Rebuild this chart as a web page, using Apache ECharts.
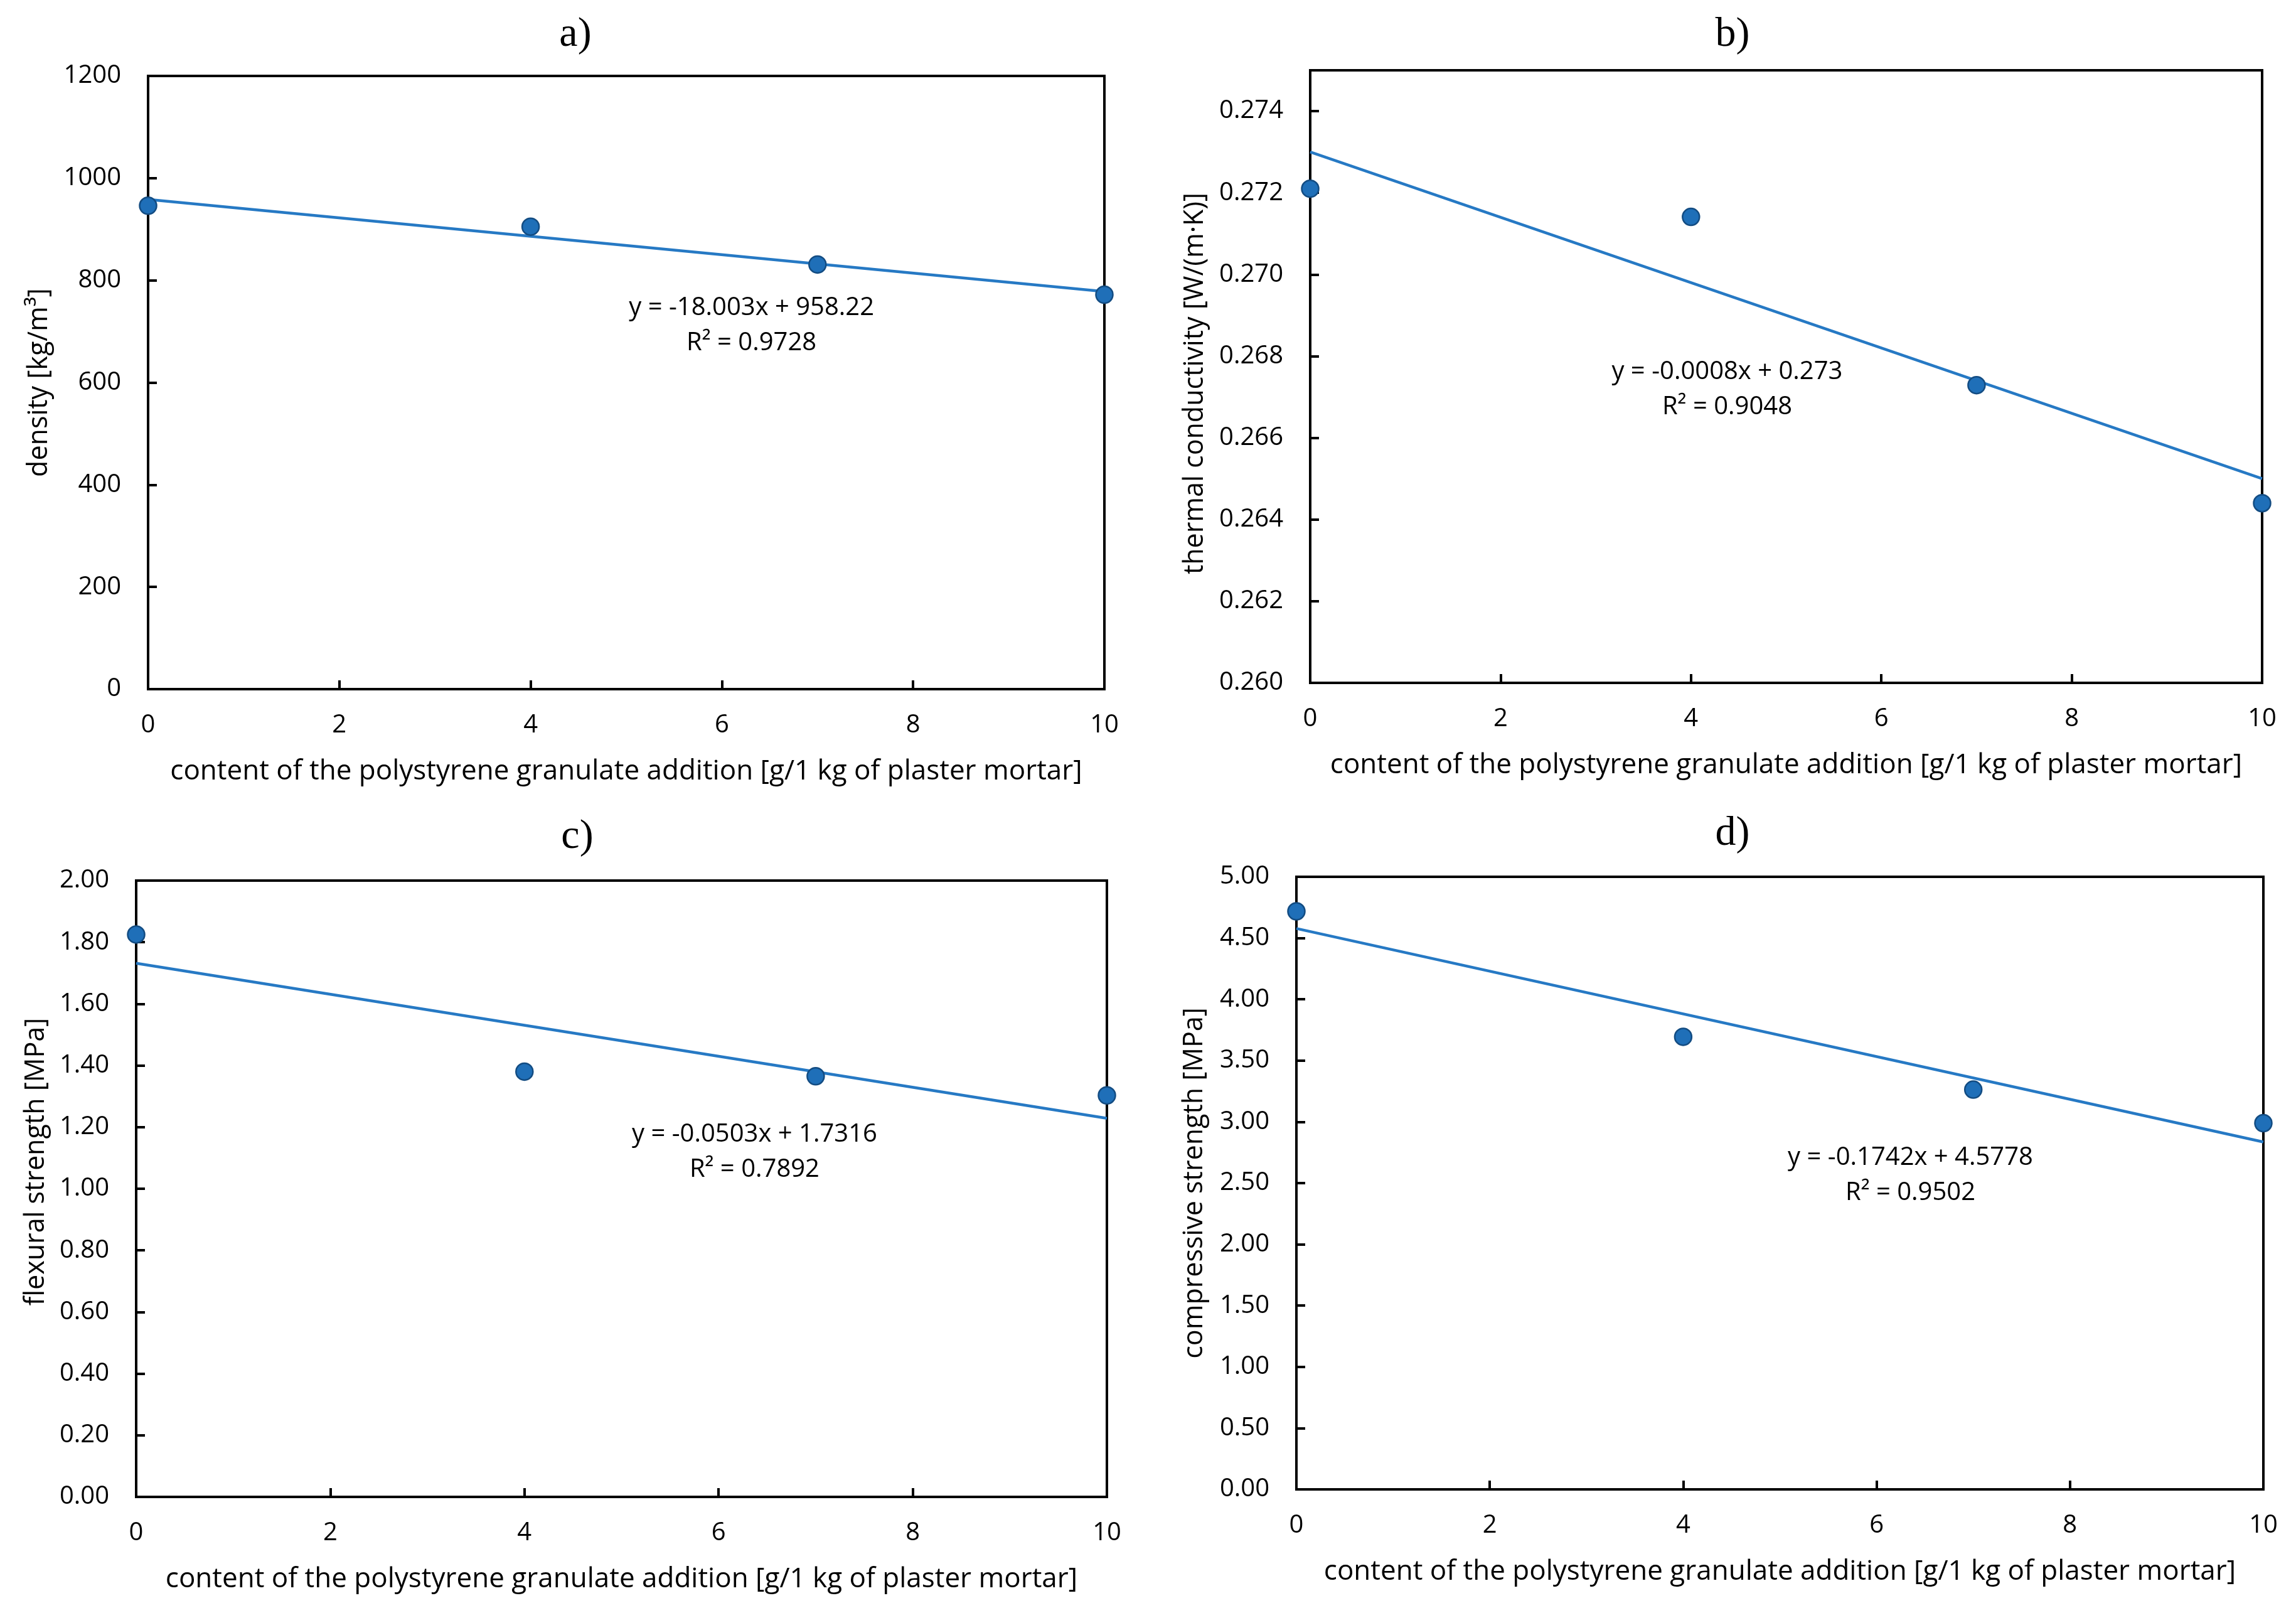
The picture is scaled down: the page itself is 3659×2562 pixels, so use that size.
<!DOCTYPE html>
<html><head><meta charset="utf-8">
<script src="https://cdn.jsdelivr.net/npm/echarts@6/dist/echarts.min.js"></script>
<style>html,body{margin:0;padding:0;background:#fff}#chart{width:3659px;height:2562px}</style>
</head><body><div id="chart"></div>
<script>
// ---- data ----
const xContent = [0, 4, 7, 10];
const densityValues = [946, 905, 831, 772];
const conductivityValues = [0.27210, 0.27141, 0.26729, 0.26440];
const flexuralValues = [1.825, 1.380, 1.365, 1.303];
const compressiveValues = [4.718, 3.694, 3.263, 2.989];

const trendDensity = [-18.003, 958.22];
const trendConductivity = [-0.0008, 0.273];
const trendFlexural = [-0.0503, 1.7316];
const trendCompressive = [-0.1742, 4.5778];

const eqTexts = [
  ['y = -18.003x + 958.22', 'R² = 0.9728'],
  ['y = -0.0008x + 0.273', 'R² = 0.9048'],
  ['y = -0.0503x + 1.7316', 'R² = 0.7892'],
  ['y = -0.1742x + 4.5778', 'R² = 0.9502']
];
const eqAnchors = [[6.31, 712], [4.38, 0.26719], [6.37, 1.118], [6.35, 2.561]];

const panelLetters = ['a)', 'b)', 'c)', 'd)'];
const yNames = ['density [kg/m³]', 'thermal conductivity [W/(m·K)]', 'flexural strength [MPa]', 'compressive strength [MPa]'];
const xName = 'content of the polystyrene granulate addition [g/1 kg of plaster mortar]';
const yRanges = [[0, 1200, 200, 0], [0.260, 0.275, 0.002, 3], [0, 2.0, 0.2, 2], [0, 5.0, 0.5, 2]];
const xRange = [0, 10, 2];

// ---- layout ----
const grids = [
  {left: 236, right: 1899, top: 121, bottom: 1464},
  {left: 2088, right: 54, top: 112, bottom: 1474},
  {left: 217, right: 1895, top: 1403, bottom: 177},
  {left: 2066, right: 52, top: 1397, bottom: 189}
];
const titlePos = [[912, 18], [2756, 18], [915, 1296], [2756, 1291]];
const yNameGaps = [152, 162, 138, 141];
const yNamePad = [[0,0,0,0],[0,22,0,0],[0,0,0,86],[0,0,0,0]];

const FONT = 'Open Sans';
const BLACK = '#000';
const allValues = [densityValues, conductivityValues, flexuralValues, compressiveValues];
const trends = [trendDensity, trendConductivity, trendFlexural, trendCompressive];

const option = {
  backgroundColor: '#fff',
  animation: false,
  title: panelLetters.map((t, i) => ({
    text: t, left: titlePos[i][0], top: titlePos[i][1], textAlign: 'center',
    textStyle: {fontFamily: 'Liberation Serif', fontWeight: 'normal', fontSize: 66, color: BLACK}
  })),
  grid: grids.map(g => Object.assign({show: true, borderColor: BLACK, borderWidth: 4, backgroundColor: 'transparent'}, g)),
  xAxis: grids.map((g, i) => ({
    type: 'value', gridIndex: i, min: xRange[0], max: xRange[1], interval: xRange[2],
    name: xName, nameLocation: 'middle', nameGap: 109,
    nameTextStyle: {fontFamily: FONT, fontSize: 44, color: BLACK},
    axisLine: {show: true, lineStyle: {color: BLACK, width: 4}},
    axisTick: {show: true, inside: true, length: 14, lineStyle: {color: BLACK, width: 4}},
    axisLabel: {fontFamily: FONT, fontSize: 40, color: BLACK, margin: 38},
    splitLine: {show: false}
  })),
  yAxis: grids.map((g, i) => ({
    type: 'value', gridIndex: i, min: yRanges[i][0], max: yRanges[i][1], interval: yRanges[i][2],
    name: yNames[i], nameLocation: 'middle', nameGap: yNameGaps[i], nameRotate: 90,
    nameTextStyle: {fontFamily: FONT, fontSize: 43, color: BLACK, padding: yNamePad[i]},
    axisLine: {show: true, lineStyle: {color: BLACK, width: 4}},
    axisTick: {show: true, inside: true, length: 14, lineStyle: {color: BLACK, width: 4}},
    axisLabel: {fontFamily: FONT, fontSize: 40, color: BLACK, margin: 43, showMaxLabel: i !== 1,
      formatter: v => v.toFixed(yRanges[i][3])},
    splitLine: {show: false}
  })),
  series: []
};

allValues.forEach((vals, i) => {
  const tr = trends[i];
  option.series.push({
    type: 'line', xAxisIndex: i, yAxisIndex: i, z: 2,
    data: [[xRange[0], tr[0] * xRange[0] + tr[1]], [xRange[1], tr[0] * xRange[1] + tr[1]]],
    symbol: 'none', lineStyle: {color: '#2679C4', width: 4.5},
    markPoint: {
      symbol: 'circle', symbolSize: 1, itemStyle: {color: 'rgba(0,0,0,0)'},
      data: [{coord: eqAnchors[i], value: 0}],
      label: {show: true, position: 'inside', formatter: eqTexts[i].join('\n'),
        fontFamily: FONT, fontSize: 40, lineHeight: 56, color: BLACK, align: 'center'}
    }
  });
  option.series.push({
    type: 'scatter', xAxisIndex: i, yAxisIndex: i, z: 3,
    data: xContent.map((x, k) => [x, vals[k]]),
    symbol: 'circle', symbolSize: 27,
    itemStyle: {color: '#1F6FB8', borderColor: '#134C82', borderWidth: 2.5, opacity: 1}
  });
});

const chart = echarts.init(document.getElementById('chart'), null, {renderer: 'canvas'});
chart.setOption(option);
</script></body></html>
